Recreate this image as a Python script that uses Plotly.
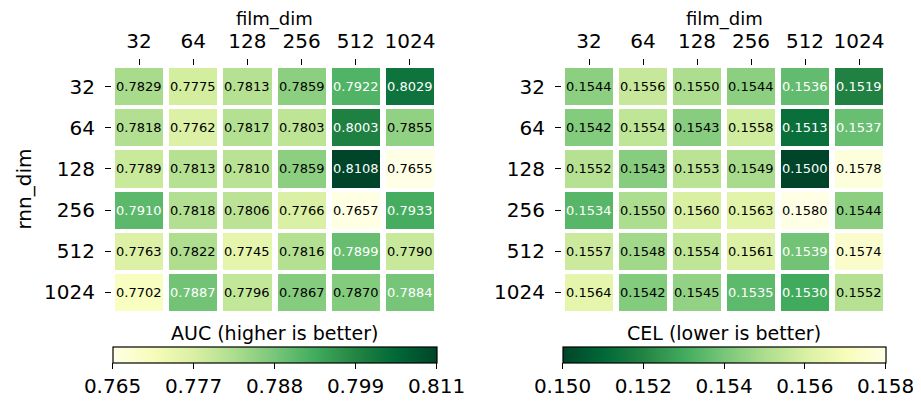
import numpy as np
import plotly.graph_objects as go

film_dim = ["32", "64", "128", "256", "512", "1024"]
rnn_dim = ["32", "64", "128", "256", "512", "1024"]

auc = [
    [0.7829, 0.7775, 0.7813, 0.7859, 0.7922, 0.8029],
    [0.7818, 0.7762, 0.7817, 0.7803, 0.8003, 0.7855],
    [0.7789, 0.7813, 0.7810, 0.7859, 0.8108, 0.7655],
    [0.7910, 0.7818, 0.7806, 0.7766, 0.7657, 0.7933],
    [0.7763, 0.7822, 0.7745, 0.7816, 0.7899, 0.7790],
    [0.7702, 0.7887, 0.7796, 0.7867, 0.7870, 0.7884],
]
cel = [
    [0.1544, 0.1556, 0.1550, 0.1544, 0.1536, 0.1519],
    [0.1542, 0.1554, 0.1543, 0.1558, 0.1513, 0.1537],
    [0.1552, 0.1543, 0.1553, 0.1549, 0.1500, 0.1578],
    [0.1534, 0.1550, 0.1560, 0.1563, 0.1580, 0.1544],
    [0.1557, 0.1548, 0.1554, 0.1561, 0.1539, 0.1574],
    [0.1564, 0.1542, 0.1545, 0.1535, 0.1530, 0.1552],
]

auc_title = "AUC (higher is better)"
cel_title = "CEL (lower is better)"
x_title = "film_dim"
y_title = "rnn_dim"

YLGN = ["#ffffe5", "#f7fcb9", "#d9f0a3", "#addd8e", "#78c679",
        "#41ab5d", "#238443", "#006837", "#004529"]
cs = [[i / 8, c] for i, c in enumerate(YLGN)]
cs_r = [[i / 8, c] for i, c in enumerate(YLGN[::-1])]

FONT = "DejaVu Sans"
OFF = 8  # default page margin of the HTML body
W, H = 921 - OFF, 406 - OFF

def px_x(p):
    return (p - OFF) / W

def px_y(p):
    return 1 - (p - OFF) / H

xi = list(range(len(film_dim)))
yi = list(range(len(rnn_dim)))

PLOT_TOP, PLOT_BOTTOM = 66, 313

fig = go.Figure()

panels = [
    (auc, cs, "x", "y", auc_title, (112, 437), False),
    (cel, cs_r, "x2", "y2", cel_title, (562, 886), True),
]

annotations = []
for data, scale, xa, ya, title, (x0, x1), low_dark in panels:
    arr = np.array(data)
    zmin, zmax = float(arr.min()), float(arr.max())
    ticks = np.linspace(zmin, zmax, 5)
    fig.add_trace(go.Heatmap(
        z=data, x=xi, y=yi, xaxis=xa, yaxis=ya,
        colorscale=scale, zmin=zmin, zmax=zmax, xgap=6, ygap=4,
        hoverinfo="skip",
        colorbar=dict(
            orientation="h", x=px_x((x0 + x1) / 2), xanchor="center",
            y=px_y(347), yanchor="top", len=x1 - x0 - 1, lenmode="pixels",
            thickness=16, thicknessmode="pixels", xpad=0, ypad=0,
            outlinecolor="black", outlinewidth=1.2,
            ticks="outside", ticklen=6, tickcolor="black", tickwidth=1.2,
            tickvals=list(ticks), ticktext=[f"{t:.3f}" for t in ticks],
            tickfont=dict(family=FONT, size=20, color="black"),
        ),
    ))
    annotations.append(dict(
        x=px_x((x0 + x1) / 2), y=px_y(333), xref="paper", yref="paper",
        xanchor="center", yanchor="middle", text=title, showarrow=False,
        font=dict(family=FONT, size=19, color="black"),
    ))
    annotations.append(dict(
        x=px_x((x0 + x1) / 2), y=px_y(19), xref="paper", yref="paper",
        xanchor="center", yanchor="middle", text=x_title, showarrow=False,
        font=dict(family=FONT, size=18, color="black"),
    ))
    for i in yi:
        for j in xi:
            v = data[i][j]
            n = (v - zmin) / (zmax - zmin)
            dark = (n < 0.5) if low_dark else (n > 0.5)
            annotations.append(dict(
                x=j, y=i, xref=xa, yref=ya, text=f"{v:.4f}", showarrow=False,
                font=dict(family=FONT, size=13, color="white" if dark else "black"),
            ))

annotations.append(dict(
    x=px_x(23), y=px_y((PLOT_TOP + PLOT_BOTTOM) / 2), xref="paper", yref="paper",
    xanchor="center", yanchor="middle", text=y_title, showarrow=False, textangle=-90,
    font=dict(family=FONT, size=20, color="black"),
))

axis_common = dict(
    ticks="outside", ticklen=6, tickwidth=1.2, tickcolor="black",
    showgrid=False, zeroline=False, showline=False, automargin=False,
    tickfont=dict(family=FONT, size=20, color="black"),
)
xcommon = dict(tickmode="array", tickvals=xi, ticktext=film_dim, range=[-0.5, 5.5],
               side="top", ticklabelstandoff=3)
ycommon = dict(tickmode="array", tickvals=yi, ticktext=rnn_dim, range=[5.5, -0.5],
               ticklabelstandoff=6)

fig.update_layout(
    width=W, height=H, margin=dict(l=0, r=0, t=0, b=0, autoexpand=False),
    paper_bgcolor="white", plot_bgcolor="white",
    font=dict(family=FONT, color="black"),
    annotations=annotations,
    xaxis=dict(domain=[px_x(112), px_x(437)], anchor="y", **xcommon, **axis_common),
    yaxis=dict(domain=[px_y(PLOT_BOTTOM), px_y(PLOT_TOP)], anchor="x",
               **ycommon, **axis_common),
    xaxis2=dict(domain=[px_x(562), px_x(886)], anchor="y2", **xcommon, **axis_common),
    yaxis2=dict(domain=[px_y(PLOT_BOTTOM), px_y(PLOT_TOP)], anchor="x2",
                **ycommon, **axis_common),
)

fig.write_html("out.html")
